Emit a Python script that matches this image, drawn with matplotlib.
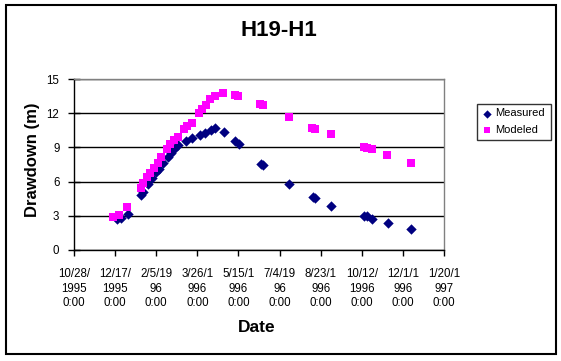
import matplotlib
matplotlib.use("Agg")
import matplotlib.pyplot as plt
from matplotlib.patches import Rectangle
import pandas as pd

plt.rcParams['font.family'] = ['Liberation Sans', 'DejaVu Sans']

measured_dates = ["1995-12-19", "1995-12-24", "1996-01-02", "1996-01-17", "1996-01-20",
                  "1996-01-26", "1996-01-31", "1996-02-05", "1996-02-08", "1996-02-13",
                  "1996-02-19", "1996-02-23", "1996-02-27", "1996-03-02", "1996-03-12",
                  "1996-03-19", "1996-03-29", "1996-04-04", "1996-04-12", "1996-04-16",
                  "1996-04-27", "1996-05-11", "1996-05-16", "1996-06-11", "1996-06-14",
                  "1996-07-16", "1996-08-14", "1996-08-16", "1996-09-05", "1996-10-15",
                  "1996-10-18", "1996-10-25", "1996-11-13", "1996-12-11"]
measured_values = [2.69, 2.8, 3.16, 4.82, 5.1,
                   5.8, 6.3, 6.8, 7.13, 7.6,
                   8.2, 8.55, 8.9, 9.2, 9.56,
                   9.8, 10.09, 10.3, 10.5, 10.67,
                   10.38, 9.6, 9.27, 7.54, 7.43,
                   5.79, 4.68, 4.6, 3.86, 3.0,
                   2.95, 2.69, 2.34, 1.81]

modeled_dates = ["1995-12-15", "1995-12-22", "1996-01-01", "1996-01-18", "1996-01-20",
                 "1996-01-25", "1996-01-29", "1996-02-02", "1996-02-07", "1996-02-11",
                 "1996-02-18", "1996-02-22", "1996-02-27", "1996-03-03", "1996-03-10",
                 "1996-03-14", "1996-03-19", "1996-03-28", "1996-04-01", "1996-04-05",
                 "1996-04-11", "1996-04-16", "1996-04-26", "1996-05-11", "1996-05-14",
                 "1996-06-10", "1996-06-14", "1996-07-16", "1996-08-12", "1996-08-16",
                 "1996-09-04", "1996-10-15", "1996-10-18", "1996-10-24", "1996-11-12",
                 "1996-12-11"]
modeled_values = [2.92, 3.07, 3.8, 5.47, 5.85,
                  6.37, 6.73, 7.16, 7.66, 8.13,
                  8.83, 9.3, 9.65, 9.94, 10.58,
                  10.9, 11.17, 11.99, 12.34, 12.72,
                  13.22, 13.5, 13.74, 13.6, 13.5,
                  12.8, 12.7, 11.64, 10.73, 10.64,
                  10.18, 9.06, 8.98, 8.83, 8.36,
                  7.66]

tick_dates = ["1995-10-28", "1995-12-17", "1996-02-05", "1996-03-26", "1996-05-15",
              "1996-07-04", "1996-08-23", "1996-10-12", "1996-12-01", "1997-01-20"]
tick_labels = ["10/28/\n1995\n0:00", "12/17/\n1995\n0:00", "2/5/19\n96\n0:00",
               "3/26/1\n996\n0:00", "5/15/1\n996\n0:00", "7/4/19\n96\n0:00",
               "8/23/1\n996\n0:00", "10/12/\n1996\n0:00", "12/1/1\n996\n0:00",
               "1/20/1\n997\n0:00"]
y_ticks = [0, 3, 6, 9, 12, 15]

W, H = 561, 361
fig = plt.figure(figsize=(W / 100, H / 100), dpi=100)
ax = fig.add_axes([74 / W, 1 - 250 / H, 370 / W, 171 / H])

md = pd.to_datetime(measured_dates)
od = pd.to_datetime(modeled_dates)
td = pd.to_datetime(tick_dates)

ax.scatter(md, measured_values, marker='D', s=28, color='#000080', linewidths=0,
           label='Measured', zorder=3)
ax.scatter(od, modeled_values, marker='s', s=34, color='#FF00FF', linewidths=0,
           label='Modeled', zorder=3)

ax.set_xlim(td[0], td[-1])
ax.set_ylim(0, 15)
ax.set_yticks(y_ticks)
ax.set_xticks(td)
ax.set_xticklabels(tick_labels, fontsize=8.3, linespacing=1.3)
ax.tick_params(axis='x', direction='out', length=4, width=1, pad=9, colors='black')
ax.tick_params(axis='y', direction='inout', length=9, width=1, pad=6, labelsize=8.3)
ax.yaxis.grid(True, color='black', linewidth=1)
ax.set_axisbelow(True)

for s in ['top', 'right']:
    ax.spines[s].set_color('#808080')
    ax.spines[s].set_linewidth(1)
for s in ['left', 'bottom']:
    ax.spines[s].set_color('black')
    ax.spines[s].set_linewidth(1)

fig.text(279 / W, 1 - 31 / H, "H19-H1", fontsize=16, fontweight='bold',
         ha='center', va='center')
fig.text(257 / W, 1 - 327 / H, "Date", fontsize=12.5, fontweight='bold',
         ha='center', va='center')
fig.text(33 / W, 1 - 160 / H, "Drawdown (m)", fontsize=12, fontweight='bold',
         ha='center', va='center', rotation=90)

leg = ax.legend(loc='upper left', bbox_to_anchor=(477 / W, 1 - 144 / H, 74 / W, 40 / H),
                bbox_transform=fig.transFigure, mode='expand', fontsize=8,
                frameon=True, fancybox=False, borderpad=0.4, handletextpad=0.2,
                handlelength=1.0, labelspacing=0.6, borderaxespad=0,
                markerscale=0.8)
leg.get_frame().set_edgecolor('black')
leg.get_frame().set_linewidth(1)

fig.patches.append(Rectangle((5.5 / W, 1 - 354 / H), 550 / W, 349 / H,
                             transform=fig.transFigure, fill=False,
                             edgecolor='black', linewidth=1.5))

fig.savefig("out.png", dpi=100)
